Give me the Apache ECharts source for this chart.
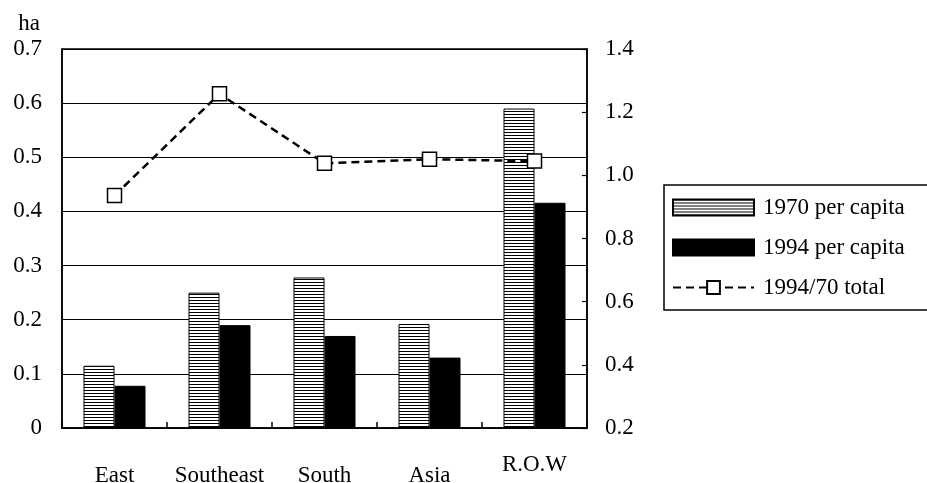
<!DOCTYPE html>
<html>
<head>
<meta charset="utf-8">
<script src="https://cdn.jsdelivr.net/npm/echarts@6/dist/echarts.min.js"></script>
<style>
html,body{margin:0;padding:0;background:#fff;}
#c{width:927px;height:483px;}
</style>
</head>
<body>
<div id="c"></div>
<script>
var categories = ['East', 'Southeast', 'South', 'Asia', 'R.O.W'];
var perCapita1970 = [0.115, 0.25, 0.278, 0.192, 0.59];
var perCapita1994 = [0.078, 0.19, 0.17, 0.13, 0.416];
var ratioTotal = [0.936, 1.258, 1.038, 1.051, 1.045];
var seriesNames = ['1970 per capita', '1994 per capita', '1994/70 total'];

var FONT = '"Liberation Serif", "Times New Roman", serif';
var FS = 23;

var pc = document.createElement('canvas');
pc.width = 8; pc.height = 3;
var pctx = pc.getContext('2d');
pctx.fillStyle = '#fff'; pctx.fillRect(0, 0, 8, 3);
pctx.fillStyle = '#000'; pctx.fillRect(0, 0, 8, 1);

var chart = echarts.init(document.getElementById('c'), null, {renderer: 'canvas'});
chart.setOption({
  animation: false,
  backgroundColor: '#fff',
  textStyle: {fontFamily: FONT, color: '#000'},
  grid: {left: 62, right: 340, top: 49, bottom: 55, show: true, borderColor: '#000', borderWidth: 1.5,
         containLabel: false, outerBoundsMode: 'none'},
  legend: {
    left: 664, top: 185, orient: 'vertical',
    itemWidth: 81, itemHeight: 16, itemGap: 17,
    padding: [11, 40, 11, 8],
    borderColor: '#000', borderWidth: 1.5,
    textStyle: {fontFamily: FONT, fontSize: FS, color: '#000', padding: [0, 0, 0, 4]},
    data: [
      {name: seriesNames[0], icon: 'rect'},
      {name: seriesNames[1], icon: 'rect'},
      {name: seriesNames[2]}
    ]
  },
  xAxis: {
    type: 'category', data: categories,
    axisLine: {lineStyle: {color: '#000', width: 1.5}},
    axisTick: {show: true, inside: true, length: 6, lineStyle: {color: '#000', width: 1.5}},
    axisLabel: {
      interval: 0,
      margin: 25, fontFamily: FONT, fontSize: FS, color: '#000',
      formatter: function (v) { return v === 'R.O.W' ? '{u|' + v + '}' : '{n|' + v + '}'; },
      rich: {
        n: {fontFamily: FONT, fontSize: FS, color: '#000', padding: [11, 0, 0, 0]},
        u: {fontFamily: FONT, fontSize: FS, color: '#000', padding: [0, 0, 11, 0]}
      }
    }
  },
  yAxis: [
    {
      type: 'value', min: 0, max: 0.7, interval: 0.1,
      name: 'ha', nameLocation: 'end', nameGap: 14,
      nameTextStyle: {fontFamily: FONT, fontSize: FS, color: '#000', align: 'right', verticalAlign: 'bottom', padding: [0, 22, 0, 0]},
      axisLine: {show: true, lineStyle: {color: '#000', width: 1.5}},
      axisTick: {show: false},
      splitLine: {show: true, lineStyle: {color: '#000', width: 1.2}},
      axisLabel: {margin: 20, fontFamily: FONT, fontSize: FS, color: '#000',
        formatter: function (v) { return v === 0 ? '0' : v.toFixed(1); }}
    },
    {
      type: 'value', min: 0.2, max: 1.4, interval: 0.2, position: 'right',
      axisLine: {show: true, lineStyle: {color: '#000', width: 1.5}},
      axisTick: {show: true, inside: true, length: 5, lineStyle: {color: '#000', width: 1.2}},
      splitLine: {show: false},
      axisLabel: {margin: 18, fontFamily: FONT, fontSize: FS, color: '#000',
        formatter: function (v) { return v.toFixed(1); }}
    }
  ],
  series: [
    {
      name: seriesNames[0], type: 'bar', yAxisIndex: 0, data: perCapita1970,
      barWidth: 31, barGap: '0%',
      itemStyle: {color: {image: pc, repeat: 'repeat'}, borderColor: '#000', borderWidth: 1}
    },
    {
      name: seriesNames[1], type: 'bar', yAxisIndex: 0, data: perCapita1994,
      barWidth: 31, barGap: '0%',
      itemStyle: {color: '#000', borderColor: '#000', borderWidth: 1}
    },
    {
      name: seriesNames[2], type: 'line', yAxisIndex: 1, data: ratioTotal,
      symbol: 'rect', symbolSize: 14,
      lineStyle: {color: '#000', width: 2.5, type: [8, 5]},
      itemStyle: {color: '#fff', borderColor: '#000', borderWidth: 1.5},
      z: 5
    }
  ]
});
</script>
</body>
</html>
